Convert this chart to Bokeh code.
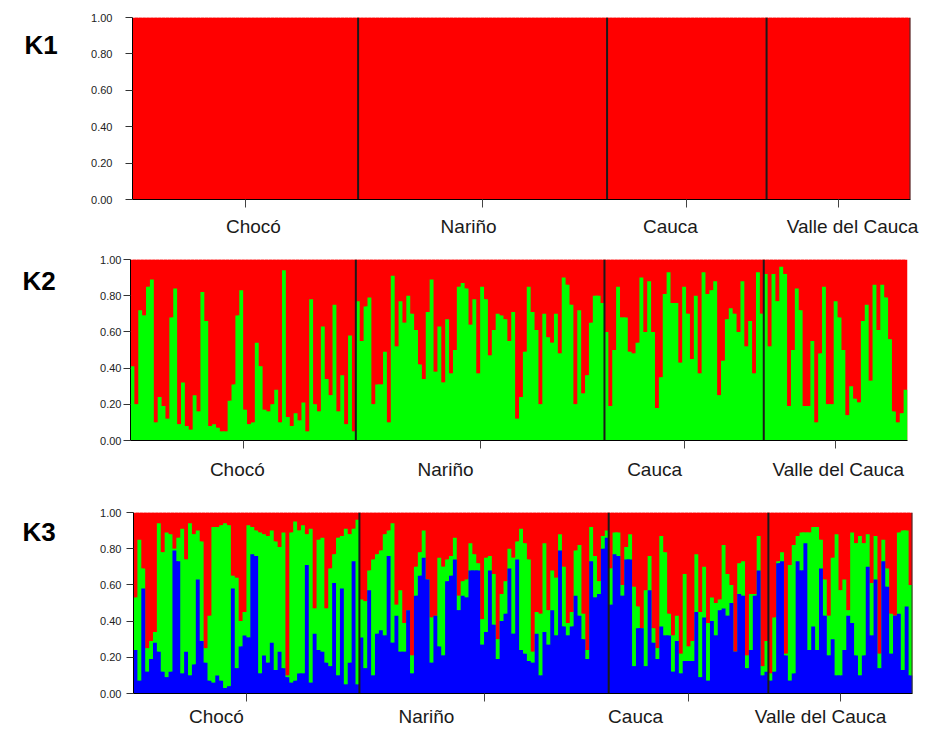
from bokeh.plotting import figure
from bokeh.models import Range1d, FixedTicker, LinearAxis, NumeralTickFormatter
from bokeh.layouts import column, row
from bokeh.core.properties import value
from bokeh.embed import file_html
from bokeh.resources import INLINE

# ---------------- data ----------------
groups = ["Chocó", "Nariño", "Cauca", "Valle del Cauca"]

# K2: membership in the green cluster (red = 1 - green)
k2_green_choco = [0.41, 0.20, 0.72, 0.69, 0.85, 0.89, 0.10, 0.24, 0.19, 0.12,
                  0.68, 0.84, 0.09, 0.32, 0.08, 0.06, 0.25, 0.16, 0.82, 0.66,
                  0.08, 0.09, 0.07, 0.05, 0.05, 0.22, 0.31, 0.69, 0.83, 0.17,
                  0.09, 0.10, 0.54, 0.41, 0.17, 0.16, 0.20, 0.28, 0.10, 0.94,
                  0.13, 0.08, 0.15, 0.11, 0.21, 0.05, 0.78, 0.20, 0.16, 0.63,
                  0.34, 0.25, 0.75, 0.16, 0.36, 0.09, 0.58, 0.05]
k2_green_narino = [0.77, 0.55, 0.74, 0.79, 0.20, 0.31, 0.31, 0.49, 0.10,
                   0.91, 0.52, 0.77, 0.65, 0.80, 0.70, 0.61, 0.42, 0.34, 0.71,
                   0.89, 0.38, 0.63, 0.32, 0.67, 0.37, 0.50, 0.85, 0.87, 0.84,
                   0.64, 0.78, 0.37, 0.85, 0.78, 0.47, 0.61, 0.70, 0.69, 0.67,
                   0.55, 0.71, 0.12, 0.24, 0.49, 0.85, 0.71, 0.61, 0.20, 0.70,
                   0.57, 0.54, 0.70, 0.48, 0.90, 0.86, 0.75, 0.20, 0.72, 0.26,
                   0.36, 0.65, 0.80, 0.80, 0.76]
k2_green_cauca = [0.60, 0.19, 0.50, 0.85, 0.68, 0.68, 0.49, 0.48, 0.54, 0.90,
                  0.60, 0.88, 0.60, 0.18, 0.35, 0.81, 0.93, 0.76, 0.76, 0.43,
                  0.85, 0.70, 0.45, 0.80, 0.37, 0.93, 0.81, 0.83, 0.88, 0.25,
                  0.44, 0.67, 0.73, 0.70, 0.60, 0.88, 0.52, 0.66, 0.37, 0.93,
                  0.70]
k2_green_valle = [0.92, 0.52, 0.92, 0.77, 0.96, 0.92, 0.19, 0.50, 0.84, 0.72,
                  0.19, 0.19, 0.55, 0.10, 0.48, 0.85, 0.20, 0.20, 0.77, 0.68,
                  0.50, 0.14, 0.30, 0.23, 0.21, 0.66, 0.75, 0.33, 0.86, 0.61,
                  0.86, 0.79, 0.56, 0.16, 0.10, 0.15, 0.28]

# K3: blue membership and cumulative blue + green (red fills the rest)
k3_blue_choco = [0.24, 0.07, 0.58, 0.12, 0.19, 0.28, 0.23, 0.12, 0.09, 0.12,
                 0.79, 0.73, 0.11, 0.23, 0.10, 0.16, 0.63, 0.29, 0.17, 0.07,
                 0.06, 0.10, 0.07, 0.03, 0.04, 0.58, 0.14, 0.26, 0.32, 0.31,
                 0.77, 0.76, 0.11, 0.21, 0.17, 0.28, 0.13, 0.23, 0.14, 0.09,
                 0.06, 0.07, 0.11, 0.11, 0.71, 0.06, 0.33, 0.24, 0.23, 0.17,
                 0.15, 0.61, 0.10, 0.58, 0.05, 0.17, 0.73, 0.05]
k3_bg_choco = [0.53, 0.85, 0.69, 0.25, 0.29, 0.34, 0.94, 0.78, 0.89, 0.88,
               0.80, 0.86, 0.91, 0.74, 0.94, 0.88, 0.90, 0.84, 0.25, 0.43,
               0.92, 0.92, 0.93, 0.94, 0.93, 0.65, 0.64, 0.40, 0.45, 0.93,
               0.92, 0.90, 0.89, 0.88, 0.87, 0.90, 0.84, 0.81, 0.89, 0.10,
               0.89, 0.95, 0.90, 0.93, 0.88, 0.91, 0.47, 0.85, 0.86, 0.47,
               0.69, 0.77, 0.86, 0.87, 0.91, 0.88, 0.91, 0.96]
k3_blue_narino = [0.31, 0.14, 0.57, 0.10, 0.33, 0.35, 0.32, 0.76, 0.28, 0.43,
                  0.23, 0.23, 0.46, 0.11, 0.54, 0.65, 0.75, 0.63, 0.17, 0.43,
                  0.26, 0.21, 0.62, 0.65, 0.74, 0.46, 0.54, 0.53, 0.68, 0.68,
                  0.68, 0.27, 0.34, 0.68, 0.38, 0.19, 0.40, 0.44, 0.69, 0.33,
                  0.74, 0.24, 0.22, 0.18, 0.17, 0.33, 0.10, 0.34, 0.27, 0.46,
                  0.32, 0.79, 0.37, 0.32, 0.37, 0.54, 0.43, 0.30, 0.19, 0.73,
                  0.53, 0.55, 0.80, 0.86]
k3_bg_narino = [0.52, 0.51, 0.68, 0.74, 0.77, 0.79, 0.88, 0.90, 0.94, 0.49,
                0.57, 0.39, 0.46, 0.21, 0.70, 0.78, 0.90, 0.63, 0.42, 0.43,
                0.75, 0.70, 0.74, 0.76, 0.86, 0.54, 0.62, 0.63, 0.83, 0.77,
                0.72, 0.41, 0.75, 0.76, 0.66, 0.30, 0.55, 0.62, 0.80, 0.75,
                0.84, 0.91, 0.83, 0.74, 0.23, 0.45, 0.44, 0.83, 0.46, 0.68,
                0.64, 0.88, 0.70, 0.39, 0.45, 0.79, 0.82, 0.44, 0.24, 0.92,
                0.76, 0.62, 0.87, 0.90]
k3_blue_cauca = [0.49, 0.77, 0.76, 0.54, 0.74, 0.74, 0.15, 0.36, 0.36, 0.15,
                 0.57, 0.28, 0.19, 0.37, 0.32, 0.32, 0.12, 0.29, 0.11, 0.18,
                 0.18, 0.18, 0.45, 0.09, 0.42, 0.07, 0.40, 0.32, 0.46, 0.47,
                 0.43, 0.50, 0.23, 0.55, 0.54, 0.14, 0.24, 0.54, 0.68, 0.10,
                 0.12]
k3_bg_cauca = [0.69, 0.89, 0.89, 0.60, 0.81, 0.88, 0.59, 0.48, 0.36, 0.57,
               0.76, 0.36, 0.25, 0.87, 0.78, 0.44, 0.32, 0.43, 0.22, 0.66,
               0.26, 0.29, 0.77, 0.45, 0.70, 0.39, 0.53, 0.50, 0.52, 0.82,
               0.66, 0.60, 0.23, 0.72, 0.73, 0.21, 0.55, 0.55, 0.87, 0.15,
               0.29]
k3_blue_valle = [0.07, 0.12, 0.72, 0.73, 0.21, 0.07, 0.11, 0.73, 0.68, 0.83,
                 0.24, 0.37, 0.24, 0.69, 0.43, 0.21, 0.30, 0.10, 0.10, 0.24,
                 0.43, 0.39, 0.21, 0.10, 0.21, 0.70, 0.32, 0.63, 0.14, 0.73,
                 0.59, 0.22, 0.43, 0.44, 0.13, 0.48, 0.10]
k3_bg_valle = [0.11, 0.42, 0.73, 0.78, 0.22, 0.71, 0.82, 0.87, 0.89, 0.89,
               0.89, 0.92, 0.92, 0.85, 0.63, 0.43, 0.75, 0.88, 0.57, 0.63,
               0.46, 0.89, 0.83, 0.87, 0.83, 0.88, 0.61, 0.87, 0.22, 0.85,
               0.69, 0.44, 0.43, 0.89, 0.90, 0.90, 0.60]

k2_green = k2_green_choco + k2_green_narino + k2_green_cauca + k2_green_valle
k3_blue = k3_blue_choco + k3_blue_narino + k3_blue_cauca + k3_blue_valle
k3_bg = k3_bg_choco + k3_bg_narino + k3_bg_cauca + k3_bg_valle
sizes = [len(k2_green_choco), len(k2_green_narino), len(k2_green_cauca), len(k2_green_valle)]
N = sum(sizes)
k1_red = [1.0] * N  # K=1: every individual fully assigned to the single cluster

RED, GREEN, BLUE = "#ff0000", "#00ff00", "#0000ff"
FONT = "Liberation Sans"

bounds = [sum(sizes[:i + 1]) for i in range(len(sizes))]
starts = [0] + bounds[:-1]
centers = [(s + e) / 2 for s, e in zip(starts, bounds)]

TITLE_W = 76
TOTAL_W = 930


def title_fig(name, height, tx, ty):
    t = figure(width=TITLE_W, height=height, x_range=Range1d(0, TITLE_W),
               y_range=Range1d(height, 0), output_backend="svg", toolbar_location=None,
               min_border_left=0, min_border_right=0, min_border_top=0, min_border_bottom=0)
    t.axis.visible = False
    t.grid.visible = False
    t.outline_line_color = None
    t.text(x=[tx], y=[ty], text=[name], text_font=value(FONT), text_font_size="26px",
           text_font_style="bold", text_baseline="middle", text_align="left",
           text_color="#000000")
    return t


def draw_layer(p, vals, col):
    xs = list(range(N))
    # one bar per individual
    p.quad(left=xs, right=[x + 1 for x in xs], bottom=0, top=vals,
           fill_color=col, line_color=None)
    # seam fillers between neighbours, only up to the lower of the two bars
    p.quad(left=[x + 0.6 for x in xs[:-1]], right=[x + 1.4 for x in xs[:-1]], bottom=0,
           top=[min(a, b) for a, b in zip(vals[:-1], vals[1:])],
           fill_color=col, line_color=None)


def panel(name, layers, height, bl, bt, bb, frame_w, label_x, label_standoff,
          title_xy, ylab_standoff, right_edge):
    w = TOTAL_W - TITLE_W
    p = figure(width=w, height=height, x_range=Range1d(0, N), y_range=Range1d(0, 1),
               output_backend="svg", toolbar_location=None,
               min_border_left=bl, min_border_right=w - bl - frame_w, min_border_top=bt,
               min_border_bottom=bb)
    p.outline_line_color = None
    p.grid.visible = False

    for vals, col in layers:
        draw_layer(p, vals, col)

    for b in bounds[:-1]:
        p.segment(x0=b, y0=0, x1=b, y1=1, line_color="#1a1a1a", line_width=2)
    if right_edge:
        p.segment(x0=N, y0=0, x1=N, y1=1, line_color="#333333", line_width=2)

    ya = p.yaxis[0]
    ya.ticker = FixedTicker(ticks=[0, 0.2, 0.4, 0.6, 0.8, 1.0])
    ya.formatter = NumeralTickFormatter(format="0.00")
    ya.major_label_text_font = FONT
    ya.major_label_text_font_size = "11px"
    ya.major_label_text_color = "#222222"
    ya.major_tick_out = 7
    ya.major_tick_in = 0
    ya.minor_tick_line_color = None
    ya.axis_line_color = "#000000"
    ya.major_tick_line_color = "#333333"
    ya.major_label_standoff = ylab_standoff

    xa = p.xaxis[0]
    xa.ticker = FixedTicker(ticks=centers)
    xa.major_label_overrides = {c: "" for c in centers}
    xa.major_tick_out = 8
    xa.major_tick_in = 0
    xa.minor_tick_line_color = None
    xa.major_tick_line_color = "#444444"
    xa.axis_line_color = "#000000"
    xa.major_label_standoff = 0

    la = LinearAxis(ticker=FixedTicker(ticks=label_x),
                    major_label_overrides={x: g for x, g in zip(label_x, groups)})
    la.major_tick_out = 0
    la.major_tick_in = 0
    la.major_tick_line_color = None
    la.minor_tick_line_color = None
    la.axis_line_color = None
    la.major_label_standoff = label_standoff
    la.major_label_text_font = FONT
    la.major_label_text_font_size = "19px"
    la.major_label_text_color = "#1a1a1a"
    p.add_layout(la, "below")

    t = title_fig(name, height, title_xy[0], title_xy[1])
    return row(t, p, spacing=0)


p1 = panel("K1", [(k1_red, RED)], 250, 132 - TITLE_W, 17, 51, 778,
           [31.1, 86.4, 138.3, 185.1], 8, (24, 38), 13, True)
p2 = panel("K2", [(k1_red, RED), (k2_green, GREEN)], 253, 130 - TITLE_W, 9, 63, 777,
           [27.5, 81.1, 134.9, 182.2], 10, (22, 30), 2, False)
p3 = panel("K3", [(k1_red, RED), (k3_bg, GREEN), (k3_blue, BLUE)], 226, 133 - TITLE_W, 9, 35, 779,
           [21.3, 75.2, 128.9, 176.4], 4, (22, 24), 5, True)

layout = column(p1, p2, p3, spacing=0)
open("out.html", "w").write(file_html(layout, INLINE))
